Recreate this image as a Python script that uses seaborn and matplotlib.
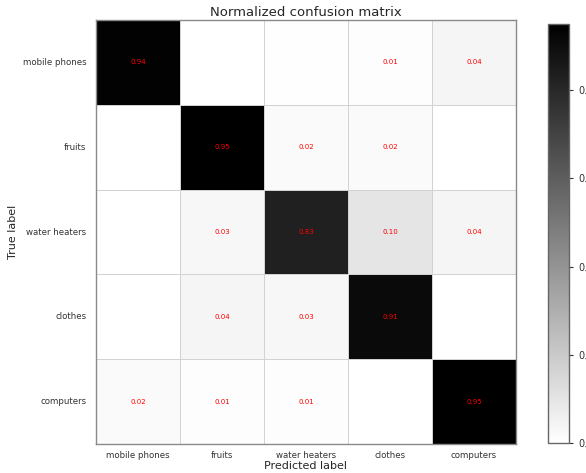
import numpy as np
import matplotlib
matplotlib.use("Agg")
import matplotlib.pyplot as plt
import seaborn as sns

classes = ["mobile phones", "fruits", "water heaters", "clothes", "computers"]
row_mobile = [0.94, 0.00, 0.004, 0.01, 0.04]
row_fruits = [0.00, 0.95, 0.02, 0.02, 0.00]
row_heaters = [0.00, 0.03, 0.83, 0.10, 0.04]
row_clothes = [0.003, 0.04, 0.03, 0.91, 0.00]
row_computers = [0.02, 0.01, 0.01, 0.00, 0.95]
cbar_ticks = [0.0, 0.2, 0.4, 0.6, 0.8]

cm = np.array([row_mobile, row_fruits, row_heaters, row_clothes, row_computers])
labels = np.array([[f"{v:.2f}" if round(v, 2) > 0 else "" for v in row] for row in cm])

sns.set_style("white")
plt.rcParams["font.family"] = ["DejaVu Sans"]

fig = plt.figure(figsize=(5.86, 4.73), dpi=100)
ax = fig.add_axes([0.1638, 0.0613, 0.7167, 0.8964])
cax = fig.add_axes([0.9352, 0.0634, 0.0358, 0.8858])

sns.heatmap(cm, ax=ax, cbar_ax=cax, cmap="gray_r", vmin=0, vmax=cm.max(),
            annot=labels, fmt="", annot_kws={"color": "red", "fontsize": 5},
            linewidths=0.7, linecolor="#d2d2d2",
            xticklabels=classes, yticklabels=classes, square=False)

for s in ax.spines.values():
    s.set_visible(True)
    s.set_color("#8a8a8a")
    s.set_linewidth(1.0)

ax.tick_params(axis="both", length=0, labelsize=6.2, colors="#333333")
ax.tick_params(axis="y", pad=7)
ax.tick_params(axis="x", pad=5)
ax.set_yticklabels(classes, rotation=0)
ax.set_xticklabels(classes, rotation=0)
ax.set_title("Normalized confusion matrix", fontsize=9.5, pad=3)
ax.set_xlabel("Predicted label", fontsize=8, labelpad=1)
ax.set_ylabel("True label", fontsize=8, labelpad=3)

cbar = ax.collections[0].colorbar
cbar.set_ticks(cbar_ticks)
cbar.outline.set_visible(True)
cbar.outline.set_edgecolor("#666666")
cbar.outline.set_linewidth(1.0)
cax.tick_params(axis="y", length=3, labelsize=7, colors="#333333", direction="out")

fig.savefig("out.png", dpi=100)
